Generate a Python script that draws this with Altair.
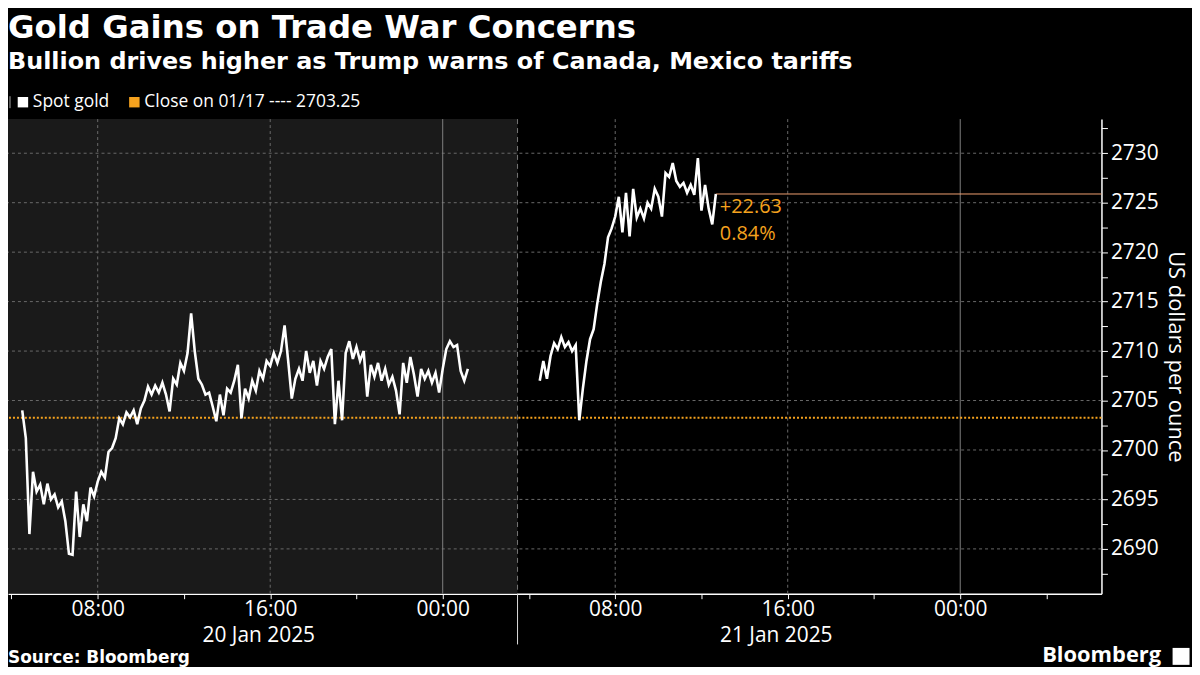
import altair as alt
import pandas as pd

# ---------------- text ----------------
TITLE = "Gold Gains on Trade War Concerns"
SUBTITLE = "Bullion drives higher as Trump warns of Canada, Mexico tariffs"
SOURCE = "Source: Bloomberg"
BRAND = "Bloomberg"
LEGEND_SPOT = "Spot gold"
LEGEND_CLOSE = "Close on 01/17 ---- 2703.25"
Y_TITLE = "US dollars per ounce"

# ---------------- data ----------------
# time is expressed in hours since 20 Jan 2025 00:00
DAY_LABELS = ["20 Jan 2025", "21 Jan 2025"]
DAY_STARTS = [3.47, 27.47]          # session boundaries
PREV_CLOSE = 2703.25

STEP = 1 / 6                        # 10-minute samples
SEG1_START = 4.5                    # 20 Jan 04:30
SEG1 = [2704.0, 2701.2, 2691.5, 2697.8, 2695.8, 2696.5, 2694.5, 2696.6, 2695.0, 2695.5,
        2694.2, 2694.8, 2692.8, 2689.5, 2689.4, 2695.8, 2691.2, 2694.5, 2692.8, 2696.2,
        2695.3, 2696.8, 2697.8, 2697.2, 2699.8, 2700.2, 2701.2, 2703.2, 2702.6, 2703.8,
        2703.3, 2704.0, 2702.6, 2704.2, 2705.0, 2706.4, 2705.6, 2706.5, 2705.8, 2706.8,
        2705.6, 2703.9, 2707.2, 2706.6, 2708.8, 2708.0, 2709.8, 2713.8, 2710.0, 2707.2,
        2706.6, 2705.6, 2705.8, 2704.4, 2702.9, 2705.6, 2703.5, 2706.2, 2705.8, 2707.0,
        2708.6, 2703.2, 2706.2, 2705.2, 2707.0, 2706.0, 2708.0, 2707.2, 2709.0, 2708.5,
        2709.8, 2708.8, 2710.0, 2712.6, 2709.0, 2705.2, 2707.2, 2708.2, 2707.0, 2710.0,
        2707.8, 2709.0, 2706.5, 2709.0, 2708.2, 2709.4, 2710.2, 2702.6, 2707.0, 2703.0,
        2709.8, 2711.0, 2709.2, 2710.4, 2709.0, 2710.0, 2705.4, 2708.6, 2707.4, 2708.8,
        2707.0, 2708.2, 2706.6, 2707.4, 2706.0, 2703.6, 2708.8, 2706.8, 2709.4, 2707.6,
        2705.4, 2708.2, 2707.2, 2708.0, 2706.8, 2707.8, 2705.8, 2708.2, 2710.2, 2711.0,
        2710.4, 2710.6, 2708.0, 2707.0, 2708.2]
SEG2_START = 28.5                   # 21 Jan 04:30
SEG2 = [2707.0, 2709.0, 2707.2, 2709.5, 2710.8, 2710.2, 2711.4, 2710.4, 2710.9, 2710.0,
        2710.6, 2703.0, 2706.2, 2709.0, 2711.2, 2712.2, 2714.8, 2717.0, 2718.8, 2721.5,
        2722.4, 2723.6, 2725.6, 2722.0, 2726.0, 2721.6, 2726.4, 2723.5, 2724.4, 2723.4,
        2725.0, 2724.4, 2726.4, 2725.6, 2723.6, 2728.0, 2727.6, 2729.0, 2727.2, 2726.6,
        2727.0, 2726.0, 2726.8, 2725.8, 2729.5, 2724.2, 2726.8, 2724.4, 2722.8, 2725.88]

X_DOMAIN = [3.84, 54.55]
Y_DOMAIN = [2685.47, 2733.45]
X_TICKS = [4, 8, 12, 16, 20, 24, 28, 32, 36, 40, 44, 48, 52]
Y_TICKS = [2687.5 + 2.5 * i for i in range(19)]
GRID_Y = [2690, 2695, 2700, 2705, 2710, 2715, 2720, 2725, 2730]
GRID_X_DASHED = [8, 16, 32, 40]
GRID_X_SOLID = [24, 48]

# ---------------- frames ----------------
rows = []
for seg, (start, vals) in enumerate([(SEG1_START, SEG1), (SEG2_START, SEG2)]):
    for i, v in enumerate(vals):
        rows.append({"hour": start + i * STEP, "price": v, "seg": seg})
line_df = pd.DataFrame(rows)
last = line_df.iloc[-1]
chg = last["price"] - PREV_CLOSE
pct = chg / PREV_CLOSE * 100
last_df = pd.DataFrame({"hour": [last["hour"]], "price": [last["price"]],
                        "end": [X_DOMAIN[1]],
                        "chg": [f"+{chg:.2f}"], "pct": [f"{pct:.2f}%"]})

W, H = 1099, 477
ORANGE = "#f5a21e"
FONT = "Open Sans"
XS = alt.Scale(domain=X_DOMAIN, nice=False, zero=False)
YS = alt.Scale(domain=Y_DOMAIN, nice=False, zero=False)

x_label = ("datum.value % 8 === 0 ? ((datum.value % 24) < 10 ? '0' : '') + "
           "(datum.value % 24) + ':00' : ''")
y_label = "datum.value % 5 === 0 ? format(datum.value, 'd') : ''"

XA = alt.Axis(
    values=X_TICKS, labelExpr=x_label, title=None, grid=False,
    domainColor="white", domainWidth=1.5, tickColor="white", tickSize=5,
    labelColor="white", labelFont=FONT, labelFontSize=21, labelPadding=0,
    labelFlush=False, labelOverlap=False, labelBound=False)
YA = alt.Axis(
    orient="right", values=Y_TICKS, labelExpr=y_label, title=Y_TITLE,
    titleColor="white", titleFont=FONT, titleFontSize=22, titleFontWeight="normal",
    titleAngle=90, titlePadding=5, grid=False,
    domainColor="white", domainWidth=1.5, tickColor="white", tickSize=6,
    labelColor="white", labelFont=FONT, labelFontSize=21, labelPadding=3,
    labelOverlap=False, labelBound=False)


def X(field):
    return alt.X(field, scale=XS, axis=XA, title=None)


def Y(field):
    return alt.Y(field, scale=YS, axis=YA, title=Y_TITLE)


shade = alt.Chart(pd.DataFrame({"a": [DAY_STARTS[0]], "b": [DAY_STARTS[1]]})).mark_rect(
    color="#1a1a1a", clip=True).encode(
    x=X("a:Q"), x2="b:Q", y=alt.value(0), y2=alt.value(H))

hgrid = alt.Chart(pd.DataFrame({"g": GRID_Y})).mark_rule(
    color="#6a6a6a", strokeDash=[3, 3], strokeWidth=1).encode(y=Y("g:Q"))

vgrid = alt.Chart(pd.DataFrame({"g": GRID_X_DASHED})).mark_rule(
    color="#6a6a6a", strokeDash=[3, 3], strokeWidth=1).encode(x=X("g:Q"))

vsolid = alt.Chart(pd.DataFrame({"g": GRID_X_SOLID})).mark_rule(
    color="#808080", strokeWidth=1).encode(x=X("g:Q"))

boundary = alt.Chart(pd.DataFrame({"g": DAY_STARTS[1:]})).mark_rule(
    color="#777777", strokeDash=[5, 4], strokeWidth=1).encode(x=X("g:Q"))

close_rule = alt.Chart(pd.DataFrame({"c": [PREV_CLOSE]})).mark_rule(
    color=ORANGE, strokeDash=[2, 2], strokeWidth=2).encode(y=Y("c:Q"))

price_rule = alt.Chart(last_df).mark_rule(color="#f0a070", strokeWidth=1).encode(
    x=X("hour:Q"), x2="end:Q", y=Y("price:Q"))

line = alt.Chart(line_df).mark_line(color="white", strokeWidth=2.6).encode(
    x=X("hour:Q"), y=Y("price:Q"), detail="seg:N")

chg_text = alt.Chart(last_df).mark_text(
    align="left", baseline="middle", dx=4, dy=13, color=ORANGE, font=FONT, fontSize=20).encode(
    x=X("hour:Q"), y=Y("price:Q"), text="chg:N")
pct_text = alt.Chart(last_df).mark_text(
    align="left", baseline="middle", dx=4, dy=40, color=ORANGE, font=FONT, fontSize=20).encode(
    x=X("hour:Q"), y=Y("price:Q"), text="pct:N")

day_ticks = alt.Chart(pd.DataFrame({"d": DAY_STARTS})).mark_rule(
    color="#dddddd", strokeWidth=1).encode(
    x=X("d:Q"), y=alt.value(H), y2=alt.value(H + 51))

day_text = alt.Chart(pd.DataFrame({"d": [s + 12 for s in DAY_STARTS], "t": DAY_LABELS})).mark_text(
    align="center", baseline="alphabetic", color="white", font=FONT, fontSize=21).encode(
    x=X("d:Q"), y=alt.value(H + 49), text="t:N")


def label(text, x, y, size, weight="normal", font=FONT, color="white", align="left",
          baseline="alphabetic"):
    return alt.Chart(pd.DataFrame({"t": [text]})).mark_text(
        align=align, baseline=baseline, fontSize=size, font=font, fontWeight=weight,
        color=color).encode(text="t:N", x=alt.value(x), y=alt.value(y))


title = label(TITLE, 0, -82, 32.5, weight="bold", font="DejaVu Sans")
subtitle = label(SUBTITLE, 0, -50, 24, weight="bold", font="DejaVu Sans")
leg_icon = alt.Chart(pd.DataFrame({"t": [0]})).mark_rule(color="#aaaaaa", strokeWidth=1).encode(
    x=alt.value(2), y=alt.value(-23), y2=alt.value(-11))
leg_sq1 = alt.Chart(pd.DataFrame({"t": [0]})).mark_square(
    color="white", size=110, opacity=1).encode(x=alt.value(15), y=alt.value(-17))
leg_t1 = label(LEGEND_SPOT, 25, -17, 17.5, baseline="middle")
leg_sq2 = alt.Chart(pd.DataFrame({"t": [0]})).mark_square(
    color=ORANGE, size=110, opacity=1).encode(x=alt.value(127), y=alt.value(-17))
leg_t2 = label(LEGEND_CLOSE, 137, -17, 17.5, baseline="middle")
source = label(SOURCE, 0, 547, 17, weight="bold", font="DejaVu Sans")
brand = label(BRAND, 1159, 546, 22, weight="bold", align="right")
brand_icon = alt.Chart(pd.DataFrame({"t": [0]})).mark_square(
    color="white", size=290, opacity=1).encode(x=alt.value(1179), y=alt.value(540))

chart = alt.layer(
    shade, hgrid, vgrid, vsolid, boundary, close_rule, price_rule, line,
    chg_text, pct_text, day_ticks, day_text,
    title, subtitle, leg_icon, leg_sq1, leg_t1, leg_sq2, leg_t2, source, brand, brand_icon
).properties(
    width=W, height=H,
    autosize=alt.AutoSizeParams(type="none"),
    padding={"left": 0, "top": 110, "right": 91, "bottom": 72},
).configure(background="black").configure_view(stroke=None)

chart.save("out.html", embed_options={"renderer": "svg", "actions": False})
